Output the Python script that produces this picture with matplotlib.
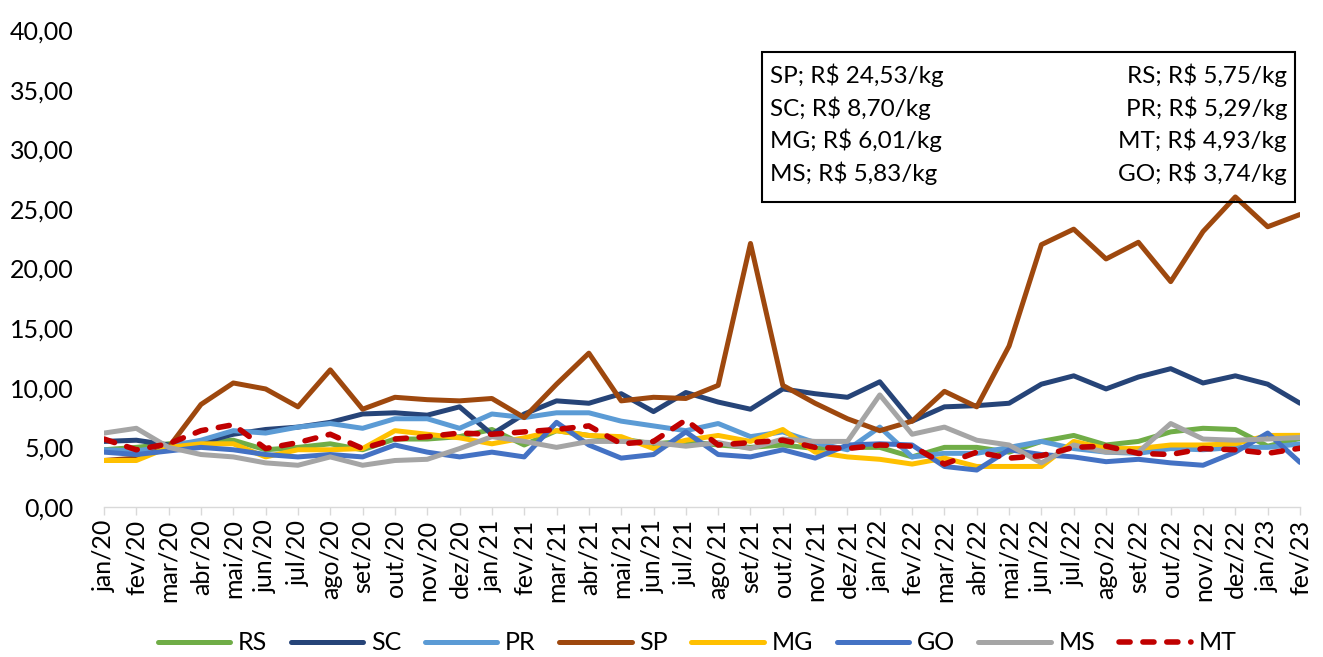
import matplotlib
matplotlib.use("Agg")
import matplotlib.pyplot as plt
from matplotlib.patches import Rectangle

# ── data ──────────────────────────────────────────────────────────────────────
months = [
    "jan/20", "fev/20", "mar/20", "abr/20", "mai/20", "jun/20", "jul/20", "ago/20",
    "set/20", "out/20", "nov/20", "dez/20", "jan/21", "fev/21", "mar/21", "abr/21",
    "mai/21", "jun/21", "jul/21", "ago/21", "set/21", "out/21", "nov/21", "dez/21",
    "jan/22", "fev/22", "mar/22", "abr/22", "mai/22", "jun/22", "jul/22", "ago/22",
    "set/22", "out/22", "nov/22", "dez/22", "jan/23", "fev/23",
]

rs = [4.8, 5.0, 5.3, 5.4, 5.6, 4.8, 5.0, 5.3, 4.8, 5.7, 5.7, 5.9, 6.5, 5.2, 6.4, 6.0,
      5.7, 5.3, 5.5, 5.2, 5.0, 5.2, 4.9, 5.0, 5.0, 4.2, 5.0, 5.0, 4.6, 5.5, 6.0, 5.2,
      5.5, 6.3, 6.6, 6.5, 5.1, 5.75]
sc = [5.5, 5.6, 5.2, 5.4, 6.1, 6.5, 6.7, 7.1, 7.8, 7.9, 7.7, 8.4, 6.1, 7.8, 8.9, 8.7,
      9.5, 8.0, 9.6, 8.8, 8.2, 9.9, 9.5, 9.2, 10.5, 7.2, 8.4, 8.5, 8.7, 10.3, 11.0, 9.9,
      10.9, 11.6, 10.4, 11.0, 10.3, 8.70]
pr = [4.8, 4.7, 5.1, 5.6, 6.4, 6.2, 6.7, 7.0, 6.6, 7.4, 7.4, 6.6, 7.8, 7.5, 7.9, 7.9,
      7.2, 6.8, 6.4, 7.0, 5.9, 6.3, 5.4, 4.8, 6.7, 4.2, 4.5, 4.5, 5.0, 5.5, 4.9, 4.6,
      4.5, 4.9, 4.8, 5.0, 5.0, 5.29]
sp = [3.9, 4.1, 5.0, 8.6, 10.4, 9.9, 8.4, 11.5, 8.2, 9.2, 9.0, 8.9, 9.1, 7.5, 10.3, 12.9,
      8.9, 9.2, 9.1, 10.2, 22.1, 10.2, 8.7, 7.4, 6.4, 7.2, 9.7, 8.4, 13.5, 22.0, 23.3, 20.8,
      22.2, 18.9, 23.1, 26.0, 23.5, 24.53]
mg = [3.9, 3.9, 5.0, 5.3, 5.3, 4.2, 4.8, 4.8, 4.9, 6.4, 6.1, 5.8, 5.3, 5.8, 6.4, 6.0,
      5.9, 4.9, 5.6, 6.0, 5.5, 6.5, 4.6, 4.2, 4.0, 3.6, 4.1, 3.4, 3.4, 3.4, 5.5, 4.9,
      4.9, 5.2, 5.2, 5.3, 6.0, 6.01]
go = [4.6, 4.4, 4.7, 5.0, 4.8, 4.4, 4.2, 4.4, 4.2, 5.2, 4.6, 4.2, 4.6, 4.2, 7.1, 5.2,
      4.1, 4.4, 6.3, 4.4, 4.2, 4.8, 4.1, 5.2, 5.3, 5.2, 3.4, 3.1, 4.8, 4.4, 4.2, 3.8,
      4.0, 3.7, 3.5, 4.6, 6.2, 3.74]
ms = [6.2, 6.6, 5.0, 4.4, 4.2, 3.7, 3.5, 4.2, 3.5, 3.9, 4.0, 4.9, 5.9, 5.5, 5.0, 5.5,
      5.5, 5.4, 5.1, 5.4, 4.9, 5.7, 5.5, 5.5, 9.4, 6.1, 6.7, 5.6, 5.2, 3.7, 5.2, 4.6,
      4.6, 7.0, 5.7, 5.6, 5.7, 5.83]
mt = [5.7, 4.8, 5.3, 6.4, 6.9, 4.9, 5.4, 6.1, 4.9, 5.7, 5.9, 6.2, 6.1, 6.3, 6.5, 6.8,
      5.3, 5.5, 7.3, 5.2, 5.4, 5.6, 5.0, 4.9, 5.2, 5.1, 3.6, 4.6, 4.1, 4.3, 5.0, 5.1,
      4.5, 4.4, 4.9, 4.8, 4.5, 4.93]

box_left = ["SP; R$ 24,53/kg", "SC; R$ 8,70/kg", "MG; R$ 6,01/kg", "MS; R$ 5,83/kg"]
box_right = ["RS; R$ 5,75/kg", "PR; R$ 5,29/kg", "MT; R$ 4,93/kg", "GO; R$ 3,74/kg"]

# ── styling ───────────────────────────────────────────────────────────────────
plt.rcParams["font.family"] = ["Lato", "DejaVu Sans"]
FS = 18
W, H = 1323, 657

series = [
    ("RS", rs, "#70AD47"),
    ("SC", sc, "#264478"),
    ("PR", pr, "#5B9BD5"),
    ("SP", sp, "#9E480E"),
    ("MG", mg, "#FFC000"),
    ("GO", go, "#4472C4"),
    ("MS", ms, "#A5A5A5"),
]

fig = plt.figure(figsize=(W / 100, H / 100), dpi=100)
ax = fig.add_axes([104 / W, 1 - 507 / H, (1300 - 104) / W, (507 - 30) / H])

x = list(range(len(months)))
for name, vals, col in series:
    ax.plot(x, vals, color=col, lw=3.6, label=name,
            solid_joinstyle="round", solid_capstyle="round")
ax.plot(x, mt, color="#C00000", lw=4.0, label="MT",
        linestyle=(0, (2.0, 2.3)), dash_capstyle="round", dash_joinstyle="round")

ax.set_xlim(0, len(months) - 1)
ax.set_ylim(0, 40)
ax.set_yticks(range(0, 41, 5))
ax.set_yticklabels([f"{v},00" for v in range(0, 41, 5)], fontsize=FS)
ax.set_xticks(x)
ax.set_xticklabels(months, rotation=90, fontsize=FS)
ax.tick_params(axis="y", length=0, pad=22)
ax.tick_params(axis="x", length=6, width=1, color="#D9D9D9", pad=3)

for s in ("top", "right", "left"):
    ax.spines[s].set_visible(False)
ax.spines["bottom"].set_color("#D9D9D9")
ax.spines["bottom"].set_linewidth(1)

fig.legend(loc="center", bbox_to_anchor=(0.527, 1 - 643 / H), ncol=8,
           frameon=False, fontsize=FS, handlelength=2.9, handletextpad=0.3,
           columnspacing=0.95)

# ── value box ─────────────────────────────────────────────────────────────────
fig.patches.append(Rectangle((762 / W, 1 - 202 / H), (1295 - 762) / W, 150 / H,
                             transform=fig.transFigure, fill=False,
                             edgecolor="black", lw=1.5))
rows_y = [75, 108, 140, 173]
for yy, lt, rt in zip(rows_y, box_left, box_right):
    fig.text(770 / W, 1 - yy / H, lt, fontsize=17.5, ha="left", va="center")
    fig.text(1287 / W, 1 - yy / H, rt, fontsize=17.5, ha="right", va="center")

fig.savefig("out.png", dpi=100, facecolor="white")
